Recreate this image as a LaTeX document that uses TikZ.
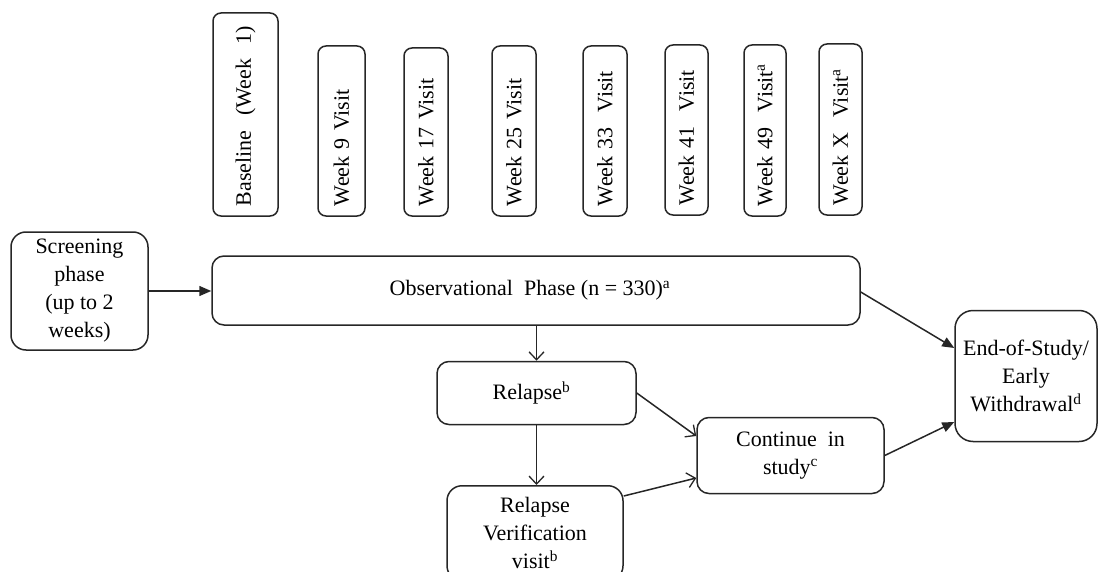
\documentclass[tikz,border=0pt]{standalone}
\usepackage{fontspec}
\setmainfont{Liberation Serif}
\usetikzlibrary{arrows.meta}
\begin{document}
\begin{tikzpicture}[x=1pt,y=-1pt,
  every node/.style={font=\fontsize{22}{28}\selectfont},
  ln/.style={line width=1.5pt, draw=black!85},
  vbox/.style={ln, rounded corners=8pt, rotate=90, align=left, inner xsep=10pt, inner ysep=0pt},
  box/.style={ln, align=center, inner sep=0pt},
  filled/.style={ln, -{Triangle[length=12pt,width=10pt]}},
  openarr/.style={ln, -{Straight Barb[length=8pt,width=15pt,line width=1.3pt]}}]
\useasboundingbox (0,0) rectangle (1099,572);
\clip (0,0) rectangle (1099,572);
% visit boxes
\node[vbox, minimum height=65pt, text width=183pt] (b0)  at (245.5,114.5) {Baseline~ (Week~ 1)};
\node[vbox, minimum height=47pt, text width=150pt] (w9)  at (341.5,131) {Week 9 Visit};
\node[vbox, minimum height=44pt, text width=148pt] (w17) at (426,132) {Week 17 Visit};
\node[vbox, minimum height=44pt, text width=150pt] (w25) at (514,131) {Week 25 Visit};
\node[vbox, minimum height=44pt, text width=150pt] (w33) at (605,131) {Week 33~ Visit};
\node[vbox, minimum height=43pt, text width=150pt] (w41) at (686.5,130) {Week 41~ Visit};
\node[vbox, minimum height=42pt, text width=151pt] (w49) at (765,130.5) {Week 49~ Visit\textsuperscript{a}};
\node[vbox, minimum height=43pt, text width=151pt] (wX)  at (840.5,129.5) {Week X~ Visit\textsuperscript{a}};
% main boxes
\node[box, rounded corners=15pt, minimum width=137pt, minimum height=118pt] (scr) at (79.5,291) {Screening\\phase\\(up to 2\\weeks)};
\node[box, rounded corners=12pt, minimum width=648pt, minimum height=69pt] (obs) at (536,290.5) {Observational~ Phase (n = 330)\textsuperscript{a}\hspace{12pt}};
\node[box, rounded corners=12pt, minimum width=199pt, minimum height=63pt] (rel) at (536.5,393) {Relapse\textsuperscript{b}\hspace{10pt}};
\node[box, rounded corners=15pt, minimum width=176pt, minimum height=95pt, anchor=north] (rv) at (535,485) {Relapse\\Verification\\visit\textsuperscript{b}};
\node[box, rounded corners=12pt, minimum width=187pt, minimum height=76pt] (cont) at (790.5,455.5) {Continue~ in\\study\textsuperscript{c}};
\node[box, rounded corners=18pt, minimum width=142pt, minimum height=131pt] (eos) at (1026,376) {End-of-Study/\\Early\\Withdrawal\textsuperscript{d}};
% connectors
\draw[filled] (scr.east) -- (obs.west |- scr.east);
\draw[openarr] (rel.north |- obs.south) -- (rel.north);
\draw[openarr] (rel.south) -- (rel.south |- rv.north);
\draw[openarr] (rel.east) -- ([yshift=19.5pt]cont.west);
\draw[openarr] ([yshift=-11pt]rv.north east) -- ([yshift=-22.5pt]cont.west);
\draw[filled] ([yshift=-1.5pt]obs.east) -- ([yshift=28pt]eos.west);
\draw[filled] (cont.east) -- ([yshift=-46pt]eos.west);
\end{tikzpicture}
\end{document}
